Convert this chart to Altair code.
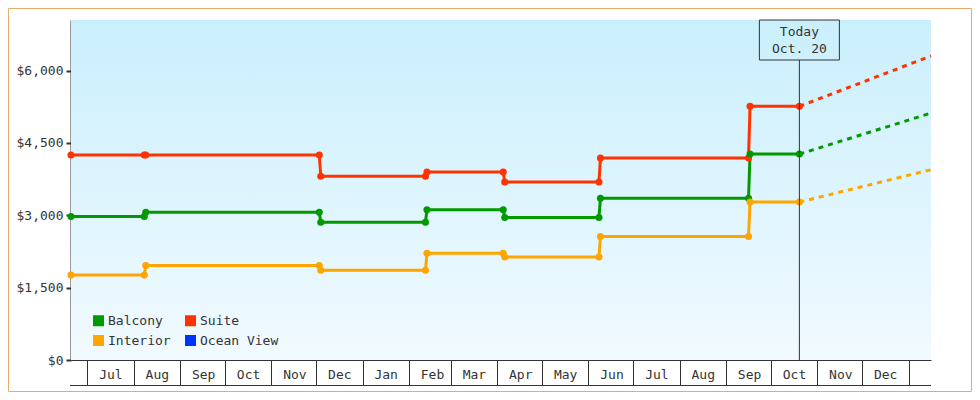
import altair as alt
import pandas as pd

# ---- data ----
series_names = ["Balcony", "Suite", "Interior", "Ocean View"]
series_colors = ["#009900", "#ff3300", "#ffa500", "#0033ff"]

obs_dates = ["2014-06-20", "2014-08-08", "2014-08-09", "2014-12-03", "2014-12-04",
             "2015-02-12", "2015-02-13", "2015-04-05", "2015-04-06", "2015-06-08",
             "2015-06-09", "2015-09-16", "2015-09-17", "2015-10-20"]
suite_prices = [4250, 4250, 4250, 4250, 3810, 3810, 3900, 3900, 3690, 3690,
                4190, 4190, 5260, 5260]
balcony_prices = [2975, 2975, 3065, 3065, 2855, 2855, 3115, 3115, 2955, 2955,
                  3355, 3355, 4270, 4270]
interior_prices = [1760, 1760, 1960, 1960, 1860, 1860, 2215, 2215, 2135, 2135,
                   2560, 2560, 3275, 3275]

today_date = "2015-10-20"
proj_end_date = "2016-01-16"
proj_end_prices = {"Suite": 6305, "Balcony": 5120, "Interior": 3945}

month_ticks = ["2014-07-01", "2014-08-01", "2014-09-01", "2014-10-01", "2014-11-01",
               "2014-12-01", "2015-01-01", "2015-02-01", "2015-03-01", "2015-04-01",
               "2015-05-01", "2015-06-01", "2015-07-01", "2015-08-01", "2015-09-01",
               "2015-10-01", "2015-11-01", "2015-12-01", "2016-01-01"]
y_ticks = [0, 1500, 3000, 4500, 6000]
today_lines = ["Today", "Oct. 20"]

# ---- tables ----
rows = []
for name, prices in [("Suite", suite_prices), ("Balcony", balcony_prices),
                     ("Interior", interior_prices)]:
    for d, p in zip(obs_dates, prices):
        rows.append({"date": d, "price": p, "series": name})
df_obs = pd.DataFrame(rows)

proj_rows = []
for name, prices in [("Suite", suite_prices), ("Balcony", balcony_prices),
                     ("Interior", interior_prices)]:
    proj_rows.append({"date": today_date, "price": prices[-1], "series": name})
    proj_rows.append({"date": proj_end_date, "price": proj_end_prices[name], "series": name})
df_proj = pd.DataFrame(proj_rows)

df_today = pd.DataFrame({"date": [today_date]})

W, H = 860, 340
FONT = "DejaVu Sans Mono"
INK = "#333333"


def dt(s):
    y, m, d = (int(v) for v in s.split("-"))
    return alt.DateTime(year=y, month=m, date=d, utc=True)


x_scale = alt.Scale(type="utc", domain=[dt("2014-06-20"), dt(proj_end_date)])
x_axis = alt.Axis(
    title=None, values=[dt(s) for s in month_ticks], tickSize=25, tickWidth=1,
    tickColor=INK, domainColor=INK, domainWidth=1, labelOffset=23,
    labelAlign="center", labelBaseline="alphabetic", labelPadding=-7,
    labelOverlap=False, labelFlush=False,
    labelExpr="datum.value > utc(2015, 11, 15) ? '' : utcFormat(datum.value, '%b')",
)
y_scale = alt.Scale(domain=[0, 7050], nice=False)
y_axis = alt.Axis(title=None, values=y_ticks, format="$,.0f", tickSize=5, tickWidth=2,
                  tickColor=INK, domainColor=INK, domainWidth=2, labelPadding=3)

x_enc = alt.X("date:T", scale=x_scale, axis=x_axis)
y_enc = alt.Y("price:Q", scale=y_scale, axis=y_axis)
color_scale = alt.Scale(domain=series_names, range=series_colors)
legend = alt.Legend(title=None, orient="none", legendX=21, legendY=294,
                    direction="horizontal", columns=2)

background = alt.Chart(alt.Data(values=[{}])).mark_rect(
    fill=alt.Gradient(gradient="linear", x1=0, x2=0, y1=0, y2=1,
                      stops=[alt.GradientStop(offset=0, color="#caeffc"),
                             alt.GradientStop(offset=1, color="#f1faff")])
).encode(x=alt.value(0), x2=alt.value(W), y=alt.value(0), y2=alt.value(H))

border = alt.Chart(alt.Data(values=[{}])).mark_rect(
    fill="transparent", stroke="#e8aa6a", strokeWidth=1
).encode(x=alt.value(-62.5), x2=alt.value(W + 40.5), y=alt.value(-11.5), y2=alt.value(H + 31.5))

lines = alt.Chart(df_obs).mark_line(strokeWidth=3).encode(
    x=x_enc, y=y_enc,
    color=alt.Color("series:N", scale=color_scale, legend=legend),
)

proj = alt.Chart(df_proj).mark_line(strokeWidth=3, strokeDash=[5, 5]).encode(
    x=x_enc, y=y_enc,
    color=alt.Color("series:N", scale=color_scale, legend=legend),
)

points = alt.Chart(df_obs).mark_circle(size=50, opacity=1).encode(
    x=x_enc, y=y_enc,
    color=alt.Color("series:N", scale=color_scale, legend=legend),
)

today_rule = alt.Chart(df_today).mark_rule(color=INK, strokeWidth=1).encode(
    x=x_enc, y=alt.value(40), y2=alt.value(H)
)
today_box = alt.Chart(df_today).mark_rect(
    width=80, height=40, fill="transparent", stroke=INK, strokeWidth=1
).encode(x=x_enc, y=alt.value(20))
today_t1 = alt.Chart(df_today).mark_text(
    font=FONT, fontSize=13, color=INK, align="center", baseline="middle"
).encode(x=x_enc, y=alt.value(12), text=alt.value(today_lines[0]))
today_t2 = alt.Chart(df_today).mark_text(
    font=FONT, fontSize=13, color=INK, align="center", baseline="middle"
).encode(x=x_enc, y=alt.value(29), text=alt.value(today_lines[1]))

bottom_line = alt.Chart(alt.Data(values=[{}])).mark_rule(color=INK, strokeWidth=1).encode(
    x=alt.value(-1), x2=alt.value(W), y=alt.value(H + 25.5)
)

chart = alt.layer(
    background, border, lines, proj, points, today_rule, today_box,
    today_t1, today_t2, bottom_line
).properties(
    width=W, height=H,
    padding={"left": 63, "top": 12, "right": 41, "bottom": 32},
    autosize=alt.AutoSizeParams(type="none"),
    background="white",
).configure_view(strokeWidth=0).configure_axis(
    grid=False, labelFont=FONT, labelFontSize=13, labelColor=INK
).configure_legend(
    symbolType="square", symbolSize=121, symbolStrokeWidth=0, symbolOpacity=1,
    labelFont=FONT, labelFontSize=13, labelColor=INK, labelOffset=3,
    columnPadding=13, rowPadding=6, padding=0
)

chart.save("out.html", embed_options={"renderer": "svg", "actions": False})
